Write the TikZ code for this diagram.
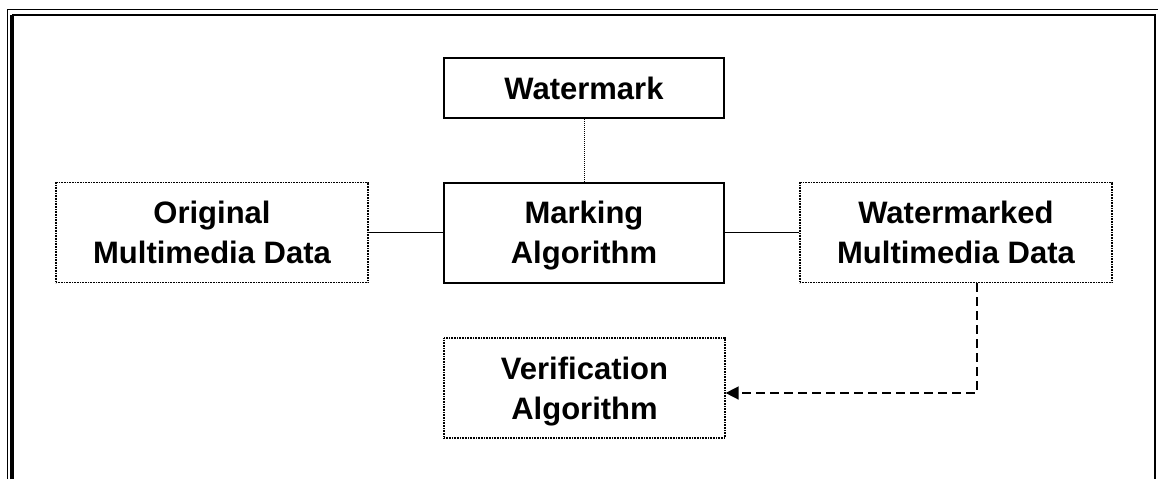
\documentclass[tikz,border=0pt]{standalone}
\usepackage{fontspec}
\setmainfont{Liberation Sans}
\usetikzlibrary{arrows.meta}

\begin{document}
\begin{tikzpicture}[x=1pt, y=-1pt,
  every node/.style={font=\fontsize{31}{40}\selectfont\bfseries, align=center, inner sep=0pt, text depth=0pt},
  solidbox/.style={draw, line width=2pt},
  dotbox/.style={draw, line width=1.2pt, dash pattern=on 1pt off 0.6pt}]
\useasboundingbox (0, 0) rectangle (1158, 479);
% frame
\draw [line width=1.5pt] (7.5, 479) -- (7.5, 9.5) -- (1158, 9.5);
\draw [line width=3.5pt] (12, 479) -- (12, 15);
\draw [line width=2pt] (12, 15) -- (1155, 15) -- (1155, 479);
% boxes
\node [solidbox, minimum width=280pt, minimum height=100pt] (mark) at (584, 232.5) {Marking\\Algorithm};
\node [solidbox, minimum width=280pt, minimum height=60pt] (wm) at (584, 88) {Watermark};
\node [dotbox, minimum width=312pt, minimum height=100pt] (orig) at (212, 232.5) {Original\\Multimedia Data};
\node [dotbox, minimum width=312pt, minimum height=100pt] (wmd) at (956, 232.5) {Watermarked\\Multimedia Data};
\node [dotbox, minimum width=281pt, minimum height=100pt] (verif) at (584.5, 388) {Verification\\Algorithm};
% links
\draw [line width=1.5pt] (orig) -- (mark);
\draw [line width=1.5pt] (mark) -- (wmd);
\draw [line width=1pt, densely dotted] (wm) -- (mark);
\coordinate (turn) at (977, 393);
\draw [line width=1.5pt, dash pattern=on 9pt off 5pt, -{Triangle[length=13pt, width=13pt]}]
  (wmd.south -| turn) -- (turn) -- (verif.east |- turn);
\end{tikzpicture}
\end{document}
